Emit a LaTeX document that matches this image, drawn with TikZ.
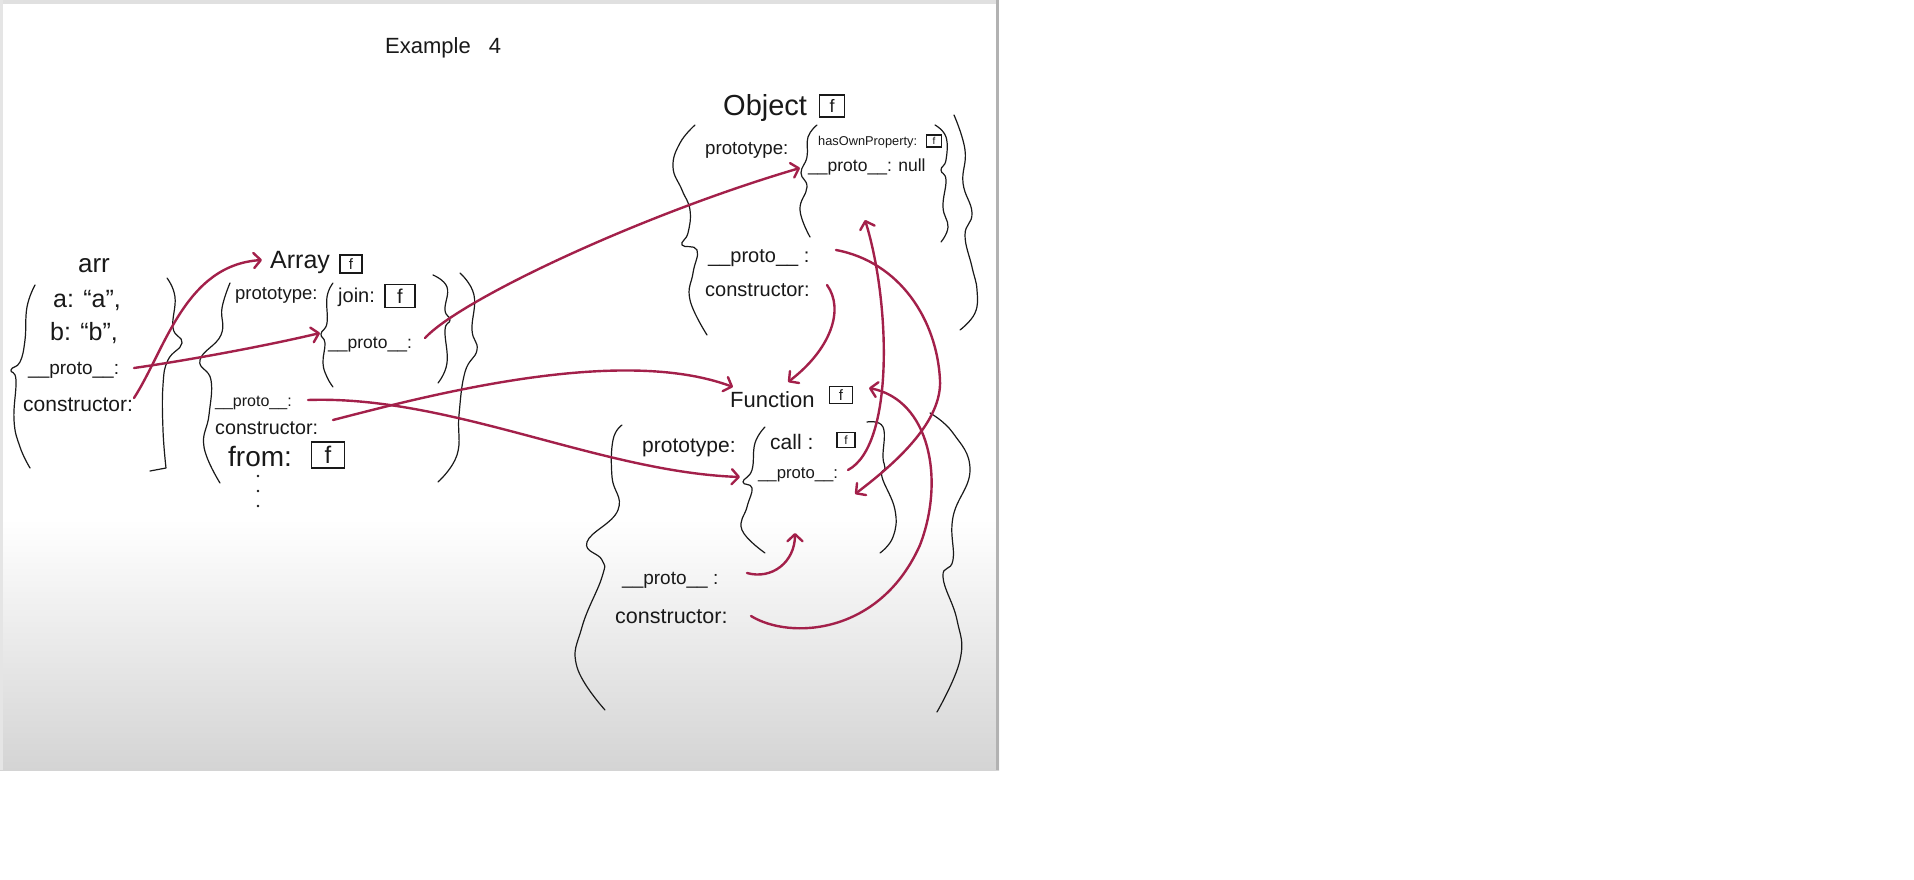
\documentclass[tikz,border=0pt]{standalone}
\usepackage{fontspec}
\setmainfont{Liberation Sans}
\usetikzlibrary{arrows.meta}
\definecolor{penred}{RGB}{163,32,74}
\definecolor{boardgray}{RGB}{212,212,212}
\definecolor{ink}{RGB}{25,25,25}
\newcommand\fsz[1]{\fontsize{#1}{#1}\selectfont}
\begin{document}
\begin{tikzpicture}[x=1pt,y=-1pt,
  txt/.style={anchor=west, inner sep=0pt, text=ink},
  fb/.style n args={3}{draw=ink, line width=1.1pt, inner sep=0pt, text=ink,
     minimum width=#1, minimum height=#2, font=\fsz{#3}},
  curlyline/.style={draw=ink, line width=1.2pt, line cap=round, line join=round},
  redarr/.style={draw=penred, line width=2.4pt, line cap=round,
     -{Straight Barb[length=7pt,width=15pt,line cap=round,line join=round]}},
  redline/.style={draw=penred, line width=2.4pt, line cap=round}]
% ---------- background / board ----------
\useasboundingbox (0,0) rectangle (1914,880);
\fill[white] (0,0) rectangle (1914,880);
\fill[white] (0,0) rectangle (999,520);
\shade[top color=white, bottom color=boardgray] (0,519) rectangle (999,770);
\fill[black!12] (0,0) rectangle (999,4);
\fill[black!10] (0,0) rectangle (3,770);
\fill[black!30] (996,0) rectangle (999,770);
% ---------- title ----------
\node[txt, font=\fsz{22}] (title) at (385,48) {Example\hspace{18pt}4};
% ---------- arr ----------
\node[anchor=center, inner sep=0pt, text=ink, font=\fsz{26}] (arrT) at (94,266) {arr};
\node[txt, font=\fsz{25}] (arrA) at (53,300) {a: “a”,};
\node[txt, font=\fsz{25}] (arrB) at (50,333) {b: “b”,};
\node[txt, font=\fsz{19}] (arrP) at (28,370) {\_\_proto\_\_:};
\node[txt, font=\fsz{21}] (arrC) at (23,405) {constructor:};
\draw[curlyline] plot[smooth, tension=0.75] coordinates {(35,285) (27,307) (25,340) (20,362) (11,370) (16,380) (14,420) (20,447) (30,468)};
\draw[curlyline] plot[smooth, tension=0.75] coordinates {(167,278) (175,297) (173,328) (182,343) (168,360) (163,385) (163,430) (166,468)} -- (150,471);
% ---------- Array ----------
\node[txt, font=\fsz{25}] (arrayT) at (270,262) {Array};
\node[fb={22pt}{18pt}{15}] (arrayF) at (351,264) {f};
\node[txt, font=\fsz{18.5}] (arrayProto) at (235,295) {prototype:};
\node[txt, font=\fsz{20}] (join) at (338,297) {join:};
\node[fb={30pt}{23pt}{20}] (joinF) at (400,296) {f};
\node[txt, font=\fsz{17.5}] (arrayPP) at (328,345) {\_\_proto\_\_:};
\node[txt, font=\fsz{16}] (arrayP) at (215,403) {\_\_proto\_\_:};
\node[txt, font=\fsz{19.7}] (arrayC) at (215,428) {constructor:};
\node[txt, font=\fsz{28}] (from) at (228,457) {from:};
\node[fb={33pt}{26pt}{24}] (fromF) at (328,455) {f};
\foreach \yy in {476,491,506} \fill[ink] (258,\yy) circle (1.4pt);
\draw[curlyline] plot[smooth, tension=0.75] coordinates {(230,283) (222,308) (221,335) (200,360) (211,380) (209,415) (204,447) (220,483)};
\draw[curlyline] plot[smooth, tension=0.75] coordinates {(333,283) (327,297) (327,323) (321,334) (325,343) (323,363) (327,377) (333,387)};
\draw[curlyline] plot[smooth, tension=0.75] coordinates {(433,275) (447,287) (445,310) (450,320) (445,330) (447,363) (438,383)};
\draw[curlyline] plot[smooth, tension=0.75] coordinates {(460,273) (474,295) (472,330) (477,350) (465,372) (459,415) (457,455) (438,482)};
% ---------- Object ----------
\node[txt, font=\fsz{29}] (objT) at (723,108) {Object};
\node[fb={25pt}{22pt}{18}] (objF) at (832,106) {f};
\node[txt, font=\fsz{18.7}] (objProto) at (705,150) {prototype:};
\node[txt, font=\fsz{12.8}] (hasOwn) at (818,142) {hasOwnProperty:};
\node[fb={15pt}{12pt}{10}] (hasOwnF) at (934,141) {f};
\node[txt, font=\fsz{17.5}] (objPP) at (808,167) {\_\_proto\_\_: null};
\node[txt, font=\fsz{20}] (objP) at (708,258) {\_\_proto\_\_ :};
\node[txt, font=\fsz{20}] (objC) at (705,290) {constructor:};
\draw[curlyline] plot[smooth, tension=0.75] coordinates {(695,125) (680,143) (673,167) (682,190) (690,210) (688,233) (682,245) (697,250) (693,273) (690,300) (707,335)};
\draw[curlyline] plot[smooth, tension=0.75] coordinates {(817,125) (808,137) (807,157) (801,173) (807,187) (800,210) (810,237)};
\draw[curlyline] plot[smooth, tension=0.75] coordinates {(935,125) (946,137) (946,160) (941,170) (946,180) (943,207) (948,227) (941,242)};
\draw[curlyline] plot[smooth, tension=0.75] coordinates {(954,115) (965,150) (963,183) (972,213) (965,235) (972,267) (977,290) (975,313) (960,330)};
% ---------- Function ----------
\node[txt, font=\fsz{22}] (fnT) at (730,400) {Function};
\node[fb={23pt}{17pt}{15}] (fnF) at (841,395) {f};
\node[txt, font=\fsz{21}] (fnProto) at (642,448) {prototype:};
\node[txt, font=\fsz{21}] (call) at (770,442) {call :};
\node[fb={18pt}{15pt}{12}] (callF) at (846,440) {f};
\node[txt, font=\fsz{16.7}] (fnPP) at (758,475) {\_\_proto\_\_:};
\node[txt, font=\fsz{19}] (fnP) at (622,580) {\_\_proto\_\_ :};
\node[txt, font=\fsz{21.5}] (fnC) at (615,617) {constructor:};
\draw[curlyline] plot[smooth, tension=0.75] coordinates {(622,425) (613,440) (612,477) (618,510) (587,542) (602,560) (602,577) (582,627) (577,667) (605,710)};
\draw[curlyline] plot[smooth, tension=0.75] coordinates {(765,427) (755,443) (752,470) (743,482) (752,488) (747,507) (742,530) (765,553)};
\draw[curlyline] plot[smooth, tension=0.75] coordinates {(867,422) (883,427) (883,457) (885,468) (882,477) (895,510) (893,537) (880,553)};
\draw[curlyline] plot[smooth, tension=0.75] coordinates {(930,413) (953,433) (970,470) (953,517) (953,560) (943,577) (957,620) (960,660) (937,712)};
% ---------- connector end points ----------
\coordinate (sArrC) at (134,398);   \coordinate (eArrayT) at (262,260);
\coordinate (sArrP) at (134,368);   \coordinate (eArrayProtoTip) at (320,333);
\coordinate (sArrayPP) at (425,338);\coordinate (eObjProtoTip) at (800,168);
\coordinate (sArrayP) at (308,400); \coordinate (eFnProtoTip) at (740,477);
\coordinate (sArrayC) at (333,420); \coordinate (eFnT) at (733,387);
\coordinate (sObjC) at (827,285);   \coordinate (eFnT2) at (788,382);
\coordinate (sObjP) at (836,250);   \coordinate (eFnProtoIn) at (855,494);
\coordinate (sFnPP) at (848,470);   \coordinate (eObjProtoIn) at (865,220);
\coordinate (sFnP) at (747,573);    \coordinate (eFnProtoLow) at (795,533);
\coordinate (sFnC) at (751,616);    \coordinate (eFnF) at (869,388);
% ---------- red arrows ----------
\draw[redarr] (sArrC) .. controls (165,350) and (185,265) .. (eArrayT);
\draw[redarr] (sArrP) .. controls (190,360) and (270,345) .. (eArrayProtoTip);
\draw[redarr] (sArrayPP) .. controls (460,300) and (640,215) .. (eObjProtoTip);
\draw[redarr] (sArrayP) .. controls (450,395) and (600,472) .. (eFnProtoTip);
\draw[redarr] (sArrayC) .. controls (430,395) and (620,345) .. (eFnT);
\draw[redarr] (sObjC) .. controls (845,310) and (830,350) .. (eFnT2);
\draw[redarr] (sObjP) .. controls (900,262) and (937,320) .. (940,380) .. controls (942,420) and (900,460) .. (eFnProtoIn);
\draw[redarr] (sFnPP) .. controls (895,445) and (890,300) .. (eObjProtoIn);
\draw[redarr] (sFnP) .. controls (772,580) and (795,562) .. (eFnProtoLow);
\draw[redarr] (sFnC) .. controls (790,640) and (880,635) .. (920,545) .. controls (945,480) and (930,400) .. (eFnF);
\end{tikzpicture}
\end{document}
